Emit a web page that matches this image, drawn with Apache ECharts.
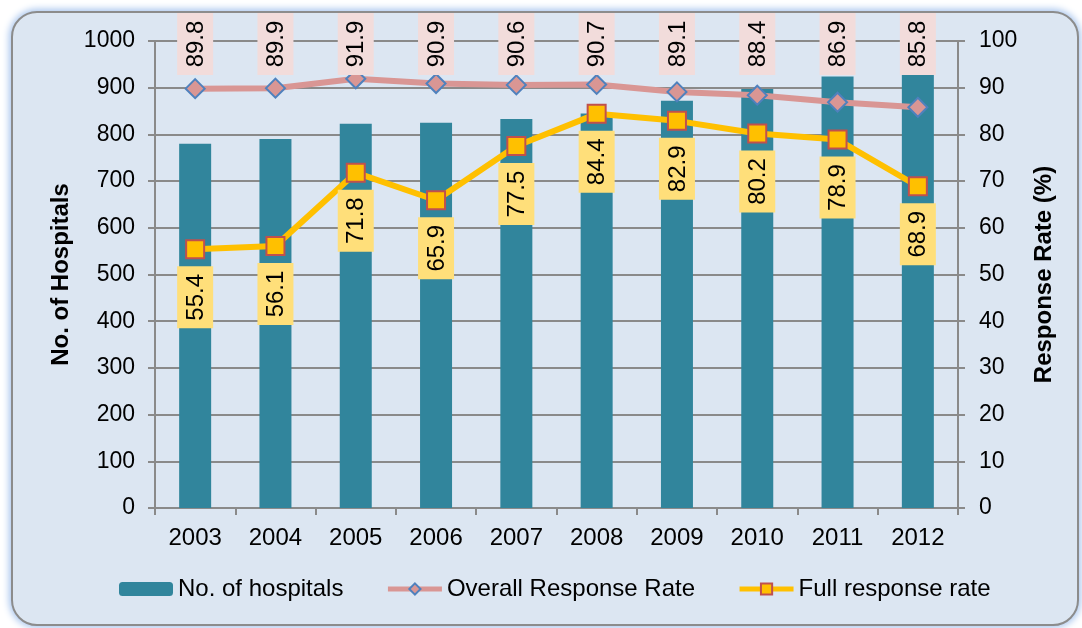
<!DOCTYPE html>
<html>
<head>
<meta charset="utf-8">
<script src="https://cdn.jsdelivr.net/npm/echarts@6/dist/echarts.min.js"></script>
<style>
    body{margin:0;background:#fff;}
    #frame{
        position:absolute;left:11px;top:11px;width:1064px;height:611px;
        background:#dce6f2;border:2px solid #8c8c8c;border-radius:26px;
        box-shadow:0 0 7px 2px #a9c6ee;
    }
    #main{position:absolute;left:0;top:0;width:1082px;height:628px;}
</style>
</head>
<body>
<div id="frame"></div>
<div id="main"></div>
<script>
    var years = ['2003','2004','2005','2006','2007','2008','2009','2010','2011','2012'];
    var hospitals = [780, 790, 823, 825, 833, 845, 872, 897, 924, 945];
    var overallRate = [89.8, 89.9, 91.9, 90.9, 90.6, 90.7, 89.1, 88.4, 86.9, 85.8];
    var fullRate = [55.4, 56.1, 71.8, 65.9, 77.5, 84.4, 82.9, 80.2, 78.9, 68.9];

    var font = 'Liberation Sans, Arial, sans-serif';
    var gridColor = '#8a8a8a';

    var myChart = echarts.init(document.getElementById('main'));

    //竖排数据标签 (rotated label boxes)
    function labelBox(fill, fixedTop){
        return function(params, api){
            var i = api.value(0);
            var v = api.value(1);
            var pt = api.coord([i, v]);
            var cy = fixedTop ? api.coord([i, 100])[1] + 3 : pt[1] + 48;
            return {
                type:'group',
                x:pt[0],
                y:cy,
                rotation:Math.PI / 2,
                children:[
                    {type:'rect', shape:{x:-31, y:-18, width:62, height:36}, style:{fill:fill}},
                    {type:'text', style:{
                        text:v.toFixed(1), x:0, y:1, align:'center', verticalAlign:'middle',
                        fontSize:24, fontFamily:font, fill:'#000'
                    }}
                ]
            };
        };
    }

    var option = {
        textStyle:{fontFamily:font},
        grid:{left:155, right:124, top:41, bottom:120},
        legend:{
            left:119,
            top:577,
            padding:0,
            itemWidth:54,
            itemHeight:14,
            itemGap:42,
            lineStyle:{width:5},
            textStyle:{fontSize:24, color:'#000', fontFamily:font},
            data:['No. of hospitals','Overall Response Rate','Full response rate']
        },
        xAxis:{
            type:'category',
            data:years,
            axisLine:{lineStyle:{color:gridColor, width:2}},
            axisTick:{show:true, length:7, lineStyle:{color:gridColor, width:2}},
            axisLabel:{fontSize:24, color:'#000', margin:18}
        },
        yAxis:[
            {
                type:'value',
                min:0, max:1000, interval:100,
                name:'No. of Hospitals',
                nameLocation:'middle',
                nameRotate:90,
                nameGap:79,
                nameTextStyle:{fontSize:24, fontWeight:'bold', color:'#000'},
                axisLine:{show:true, lineStyle:{color:gridColor, width:2}},
                axisTick:{show:true, length:7, lineStyle:{color:gridColor, width:2}},
                axisLabel:{fontSize:23, color:'#000', margin:20, formatter:function(v){ return String(v); }},
                splitLine:{show:true, lineStyle:{color:gridColor, width:2}}
            },
            {
                type:'value',
                min:0, max:100, interval:10,
                name:'Response Rate (%)',
                nameLocation:'middle',
                nameRotate:90,
                nameGap:74,
                nameTextStyle:{fontSize:24, fontWeight:'bold', color:'#000'},
                axisLine:{show:true, lineStyle:{color:gridColor, width:2}},
                axisTick:{show:true, length:7, lineStyle:{color:gridColor, width:2}},
                axisLabel:{fontSize:23, color:'#000', margin:21},
                splitLine:{show:false}
            }
        ],
        series:[
            {
                name:'No. of hospitals',
                type:'bar',
                data:hospitals,
                barWidth:32,
                itemStyle:{color:'#31859c'}
            },
            {
                name:'Overall Response Rate',
                type:'line',
                yAxisIndex:1,
                data:overallRate,
                symbol:'diamond',
                symbolSize:19,
                lineStyle:{color:'#d99694', width:6},
                itemStyle:{color:'#d99694', borderColor:'#4f81bd', borderWidth:2},
                z:3
            },
            {
                name:'Full response rate',
                type:'line',
                yAxisIndex:1,
                data:fullRate,
                symbol:'rect',
                symbolSize:18,
                lineStyle:{color:'#ffc000', width:6},
                itemStyle:{color:'#ffc000', borderColor:'#c0504d', borderWidth:2},
                z:4
            },
            {
                type:'custom',
                yAxisIndex:1,
                data:overallRate.map(function(v, i){ return [i, v]; }),
                renderItem:labelBox('#f2dcdb', true),
                silent:true,
                z:6
            },
            {
                type:'custom',
                yAxisIndex:1,
                data:fullRate.map(function(v, i){ return [i, v]; }),
                renderItem:labelBox('#ffdf7a', false),
                silent:true,
                z:6
            }
        ]
    };

    myChart.setOption(option);
</script>
</body>
</html>
